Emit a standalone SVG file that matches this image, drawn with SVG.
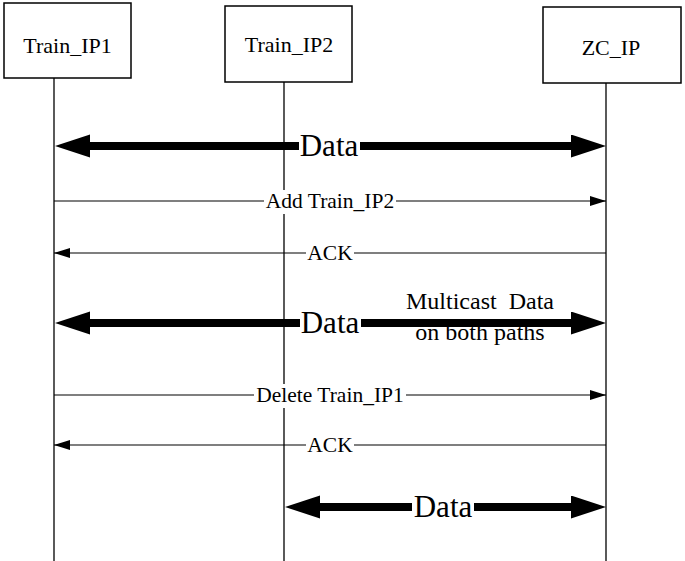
<svg xmlns="http://www.w3.org/2000/svg" width="685" height="561" viewBox="0 0 685 561">
<defs>
<style>
.box{fill:#fff;stroke:#000;stroke-width:1.5}
.life{stroke:#000;stroke-width:1.3;fill:none}
.lbl{font-family:"Liberation Serif","Times New Roman",serif;font-size:22px;fill:#000;text-anchor:middle}
.msg{font-family:"Liberation Serif","Times New Roman",serif;font-size:21.5px;fill:#000;text-anchor:middle}
.big{font-family:"Liberation Serif","Times New Roman",serif;font-size:31px;fill:#000;text-anchor:middle}
.note{font-family:"Liberation Serif","Times New Roman",serif;font-size:24px;fill:#000;text-anchor:middle}
.thin{stroke:#000;stroke-width:1.2;fill:none}
.thick{stroke:#000;stroke-width:8;fill:none}
.bg{fill:#fff}
</style>
<marker id="ah" markerUnits="userSpaceOnUse" markerWidth="16" markerHeight="12" refX="16" refY="5" orient="auto-start-reverse">
<path d="M0,0 L16,5 L0,10 z" fill="#000"/>
</marker>
<marker id="bh" markerUnits="userSpaceOnUse" markerWidth="36" markerHeight="24" refX="0" refY="11.5" orient="auto-start-reverse">
<path d="M0,0 L35,11.5 L0,23 z" fill="#000"/>
</marker>
</defs>
<g id="node-train-ip1">
<rect class="box" x="4" y="3" width="127" height="75"/>
<text class="lbl" x="67.5" y="53">Train_IP1</text>
</g>
<g id="node-train-ip2">
<rect class="box" x="225" y="6" width="127" height="76"/>
<text class="lbl" x="289" y="52">Train_IP2</text>
</g>
<g id="node-zc-ip">
<rect class="box" x="543" y="7" width="138" height="76"/>
<text class="lbl" x="611" y="55">ZC_IP</text>
</g>
<g id="connectors">
<line class="life" x1="54" y1="78" x2="54" y2="561"/>
<line class="life" x1="284" y1="82" x2="284" y2="561"/>
<line class="life" x1="606" y1="83" x2="606" y2="561"/>

<line class="thick" x1="90" y1="146" x2="571" y2="146" marker-start="url(#bh)" marker-end="url(#bh)"/>
<rect class="bg" x="299" y="130" width="61" height="32"/>
<text class="big" x="329" y="156">Data</text>

<line class="thin" x1="54" y1="201" x2="606" y2="201" marker-end="url(#ah)"/>
<rect class="bg" x="264" y="190" width="132" height="24"/>
<text class="msg" x="330" y="208">Add Train_IP2</text>

<line class="thin" x1="54" y1="253" x2="606" y2="253" marker-start="url(#ah)"/>
<rect class="bg" x="306" y="242" width="48" height="24"/>
<text class="msg" x="330" y="260">ACK</text>

<line class="thick" x1="90" y1="323" x2="571" y2="323" marker-start="url(#bh)" marker-end="url(#bh)"/>
<rect class="bg" x="300" y="307" width="61" height="32"/>
<text class="big" x="330" y="333">Data</text>
<text class="note" x="480" y="309" xml:space="preserve">Multicast  Data</text>
<text class="note" x="480" y="340">on both paths</text>

<line class="thin" x1="54" y1="395" x2="606" y2="395" marker-end="url(#ah)"/>
<rect class="bg" x="254" y="384" width="152" height="24"/>
<text class="msg" x="330" y="402">Delete Train_IP1</text>

<line class="thin" x1="54" y1="445" x2="606" y2="445" marker-start="url(#ah)"/>
<rect class="bg" x="306" y="434" width="48" height="24"/>
<text class="msg" x="330" y="452">ACK</text>

<line class="thick" x1="320" y1="507" x2="571" y2="507" marker-start="url(#bh)" marker-end="url(#bh)"/>
<rect class="bg" x="412" y="491" width="62" height="32"/>
<text class="big" x="443" y="517">Data</text>
</g>
</svg>
